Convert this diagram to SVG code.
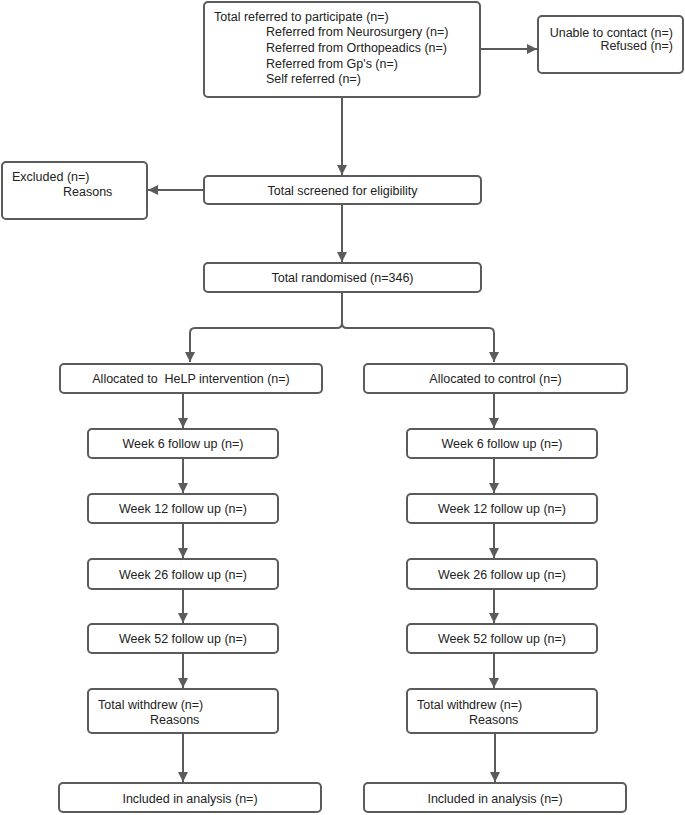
<svg xmlns="http://www.w3.org/2000/svg" width="685" height="815" viewBox="0 0 685 815">
<defs>
<style>
.box{fill:#fff;stroke:#5b5b5b;stroke-width:2}
.t{font-family:"Liberation Sans",Arial,sans-serif;font-size:12.5px;fill:#222}
.c{text-anchor:middle}
.r{text-anchor:end}
.ln{fill:none;stroke:#5b5b5b;stroke-width:2}
</style>
<marker id="ah" viewBox="0 0 10 10" refX="10" refY="5" markerWidth="5.5" markerHeight="5" markerUnits="strokeWidth" orient="auto">
<path d="M0,0 L10,5 L0,10 z" fill="#5b5b5b"/>
</marker>
</defs>
<rect width="685" height="815" fill="#fff"/>
<g id="connectors">
<path class="ln" d="M480,49 H537" marker-end="url(#ah)"/>
<path class="ln" d="M342,97 V175" marker-end="url(#ah)"/>
<path class="ln" d="M204,190 H148" marker-end="url(#ah)"/>
<path class="ln" d="M342,204 V262" marker-end="url(#ah)"/>
<path class="ln" d="M342,292 V323 Q342,328 337,328 H195 Q190,328 190,333 V362" marker-end="url(#ah)"/>
<path class="ln" d="M342,323 Q342,328 347,328 H489 Q494,328 494,333 V362" marker-end="url(#ah)"/>
<path class="ln" d="M183,393 V428" marker-end="url(#ah)"/>
<path class="ln" d="M183,458 V493" marker-end="url(#ah)"/>
<path class="ln" d="M183,523 V558" marker-end="url(#ah)"/>
<path class="ln" d="M183,589 V623" marker-end="url(#ah)"/>
<path class="ln" d="M183,653 V688" marker-end="url(#ah)"/>
<path class="ln" d="M183,733 V782" marker-end="url(#ah)"/>
<path class="ln" d="M494,393 V428" marker-end="url(#ah)"/>
<path class="ln" d="M494,458 V493" marker-end="url(#ah)"/>
<path class="ln" d="M494,523 V558" marker-end="url(#ah)"/>
<path class="ln" d="M494,589 V623" marker-end="url(#ah)"/>
<path class="ln" d="M494,653 V688" marker-end="url(#ah)"/>
<path class="ln" d="M495,733 V782" marker-end="url(#ah)"/>
</g>
<g id="referred">
<rect class="box" x="204" y="2" width="276" height="95" rx="4"/>
<text class="t" x="214" y="20.5">Total referred to participate (n=)</text>
<text class="t" x="266" y="36.2">Referred from Neurosurgery (n=)</text>
<text class="t" x="266" y="51.9">Referred from Orthopeadics (n=)</text>
<text class="t" x="266" y="67.6">Referred from Gp's (n=)</text>
<text class="t" x="266" y="83.3">Self referred (n=)</text>
</g>
<g id="unable">
<rect class="box" x="538" y="16" width="145" height="57" rx="4"/>
<text class="t r" x="673" y="37.2">Unable to contact (n=)</text>
<text class="t r" x="673" y="50.2">Refused (n=)</text>
</g>
<g id="excluded">
<rect class="box" x="2" y="162" width="145" height="57" rx="4"/>
<text class="t" x="12" y="180.5">Excluded (n=)</text>
<text class="t" x="63" y="196.2">Reasons</text>
</g>
<g id="screened">
<rect class="box" x="204" y="176" width="277" height="28" rx="4"/>
<text class="t c" x="342.5" y="194.5">Total screened for eligibility</text>
</g>
<g id="randomised">
<rect class="box" x="204" y="263" width="277" height="29" rx="4"/>
<text class="t c" x="342.5" y="282">Total randomised (n=346)</text>
</g>
<g id="alloc-help">
<rect class="box" x="60" y="364" width="262" height="29" rx="4"/>
<text class="t c" x="191" y="383" xml:space="preserve">Allocated to  HeLP intervention (n=)</text>
</g>
<g id="alloc-control">
<rect class="box" x="364" y="364" width="263" height="29" rx="4"/>
<text class="t c" x="495.5" y="383">Allocated to control (n=)</text>
</g>
<g id="l-w6">
<rect class="box" x="88" y="429" width="190" height="29" rx="4"/>
<text class="t c" x="183" y="448">Week 6 follow up (n=)</text>
</g>
<g id="l-w12">
<rect class="box" x="88" y="494" width="190" height="29" rx="4"/>
<text class="t c" x="183" y="513">Week 12 follow up (n=)</text>
</g>
<g id="l-w26">
<rect class="box" x="88" y="559" width="190" height="30" rx="4"/>
<text class="t c" x="183" y="578.5">Week 26 follow up (n=)</text>
</g>
<g id="l-w52">
<rect class="box" x="88" y="624" width="190" height="29" rx="4"/>
<text class="t c" x="183" y="643">Week 52 follow up (n=)</text>
</g>
<g id="l-withdrew">
<rect class="box" x="88" y="689" width="190" height="44" rx="4"/>
<text class="t" x="98" y="708.5">Total withdrew (n=)</text>
<text class="t" x="150" y="723.5">Reasons</text>
</g>
<g id="l-included">
<rect class="box" x="59" y="783" width="262" height="29" rx="4"/>
<text class="t c" x="190" y="802.5">Included in analysis (n=)</text>
</g>
<g id="r-w6">
<rect class="box" x="407" y="429" width="190" height="29" rx="4"/>
<text class="t c" x="502" y="448">Week 6 follow up (n=)</text>
</g>
<g id="r-w12">
<rect class="box" x="407" y="494" width="190" height="29" rx="4"/>
<text class="t c" x="502" y="513">Week 12 follow up (n=)</text>
</g>
<g id="r-w26">
<rect class="box" x="407" y="559" width="190" height="30" rx="4"/>
<text class="t c" x="502" y="578.5">Week 26 follow up (n=)</text>
</g>
<g id="r-w52">
<rect class="box" x="407" y="624" width="190" height="29" rx="4"/>
<text class="t c" x="502" y="643">Week 52 follow up (n=)</text>
</g>
<g id="r-withdrew">
<rect class="box" x="407" y="689" width="190" height="44" rx="4"/>
<text class="t" x="417" y="708.5">Total withdrew (n=)</text>
<text class="t" x="469" y="723.5">Reasons</text>
</g>
<g id="r-included">
<rect class="box" x="364" y="783" width="262" height="29" rx="4"/>
<text class="t c" x="495" y="802.5">Included in analysis (n=)</text>
</g>
</svg>
